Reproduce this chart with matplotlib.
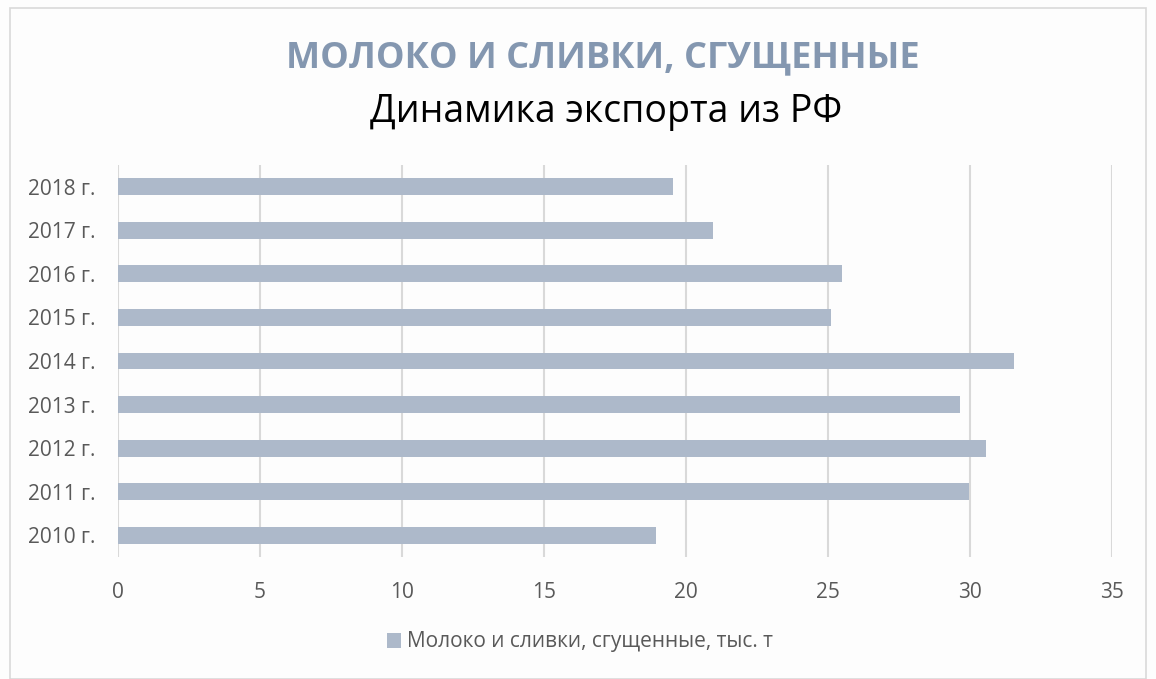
import matplotlib
matplotlib.use("Agg")
import matplotlib.pyplot as plt
from matplotlib.patches import Rectangle

plt.rcParams['font.family'] = ['Open Sans', 'DejaVu Sans']

years = ['2010 г.', '2011 г.', '2012 г.', '2013 г.', '2014 г.',
         '2015 г.', '2016 г.', '2017 г.', '2018 г.']
values = [18.95, 29.95, 30.55, 29.65, 31.55, 25.1, 25.5, 20.95, 19.55]
xticks = [0, 5, 10, 15, 20, 25, 30, 35]

bar_color = '#adb9ca'
text_color = '#595959'

fig = plt.figure(figsize=(11.56, 6.79), dpi=100)
fig.patch.set_facecolor('#fdfdfd')

# рамка
fig.patches.append(Rectangle((10/1156, 0), 1 - 20/1156, 1 - 8/679,
                             transform=fig.transFigure, fill=False,
                             edgecolor='#d9d9d9', linewidth=1.2))

ax = fig.add_axes([118/1156, 1 - 557/679, 994/1156, 392/679])
ax.set_facecolor('none')
ax.barh(range(len(years)), values, height=0.39, color=bar_color, zorder=3,
        label='Молоко и сливки, сгущенные, тыс. т')
ax.set_xlim(0, 35)
ax.set_ylim(-0.5, len(years) - 0.5)
ax.set_xticks(xticks)
ax.set_yticks(range(len(years)))
ax.set_yticklabels(years)
ax.grid(axis='x', color='#d9d9d9', linewidth=1.5, zorder=0)
for s in ax.spines.values():
    s.set_visible(False)
ax.tick_params(length=0, labelsize=15, colors=text_color)
ax.tick_params(axis='x', pad=18)
ax.tick_params(axis='y', pad=16)

fig.text(603/1156, 1 - 58/679, 'МОЛОКО И СЛИВКИ, СГУЩЕННЫЕ', fontsize=26,
         fontweight='bold', color='#8497b0', ha='center', va='center')
fig.text(606/1156, 1 - 112/679, 'Динамика экспорта из РФ', fontsize=27,
         color='black', ha='center', va='center')

fig.legend(loc='center', bbox_to_anchor=(580/1156, 1 - 642/679), frameon=False,
           fontsize=15, labelcolor=text_color, handlelength=0.7, handleheight=0.7,
           handletextpad=0.3)

fig.savefig('out.png', dpi=100, facecolor=fig.get_facecolor())
